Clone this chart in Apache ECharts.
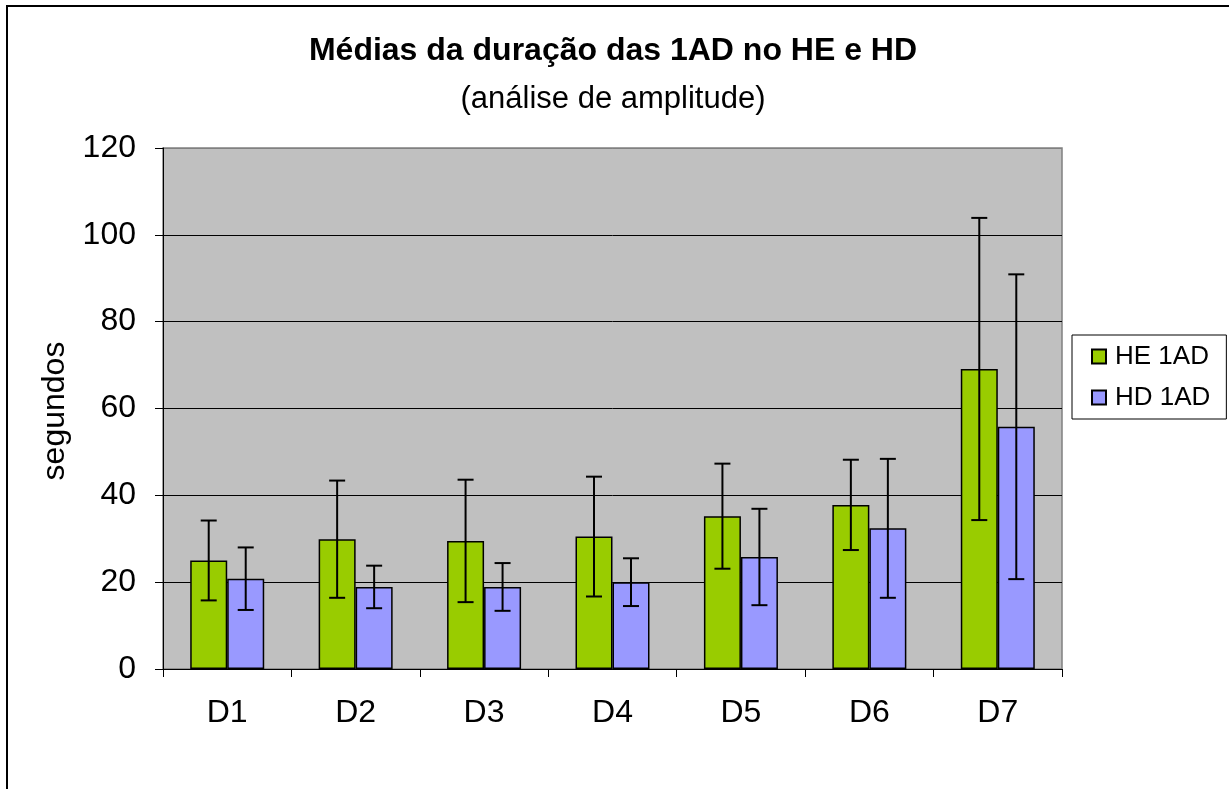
<!DOCTYPE html>
<html>
<head>
<meta charset="utf-8">
<script src="https://cdn.jsdelivr.net/npm/echarts@6/dist/echarts.min.js"></script>
<style>html,body{margin:0;padding:0;background:#fff}#c{width:1229px;height:789px}</style>
</head>
<body>
<div id="c"></div>
<script>
var categories = ['D1','D2','D3','D4','D5','D6','D7'];
var heMean = [25.0, 29.9, 29.5, 30.5, 35.2, 37.8, 69.1];
var hdMean = [20.8, 18.9, 18.9, 20.0, 25.8, 32.4, 55.8];
var heErr = [9.2, 13.5, 14.1, 13.8, 12.1, 10.4, 34.8];
var hdErr = [7.2, 4.9, 5.5, 5.5, 11.1, 16.0, 35.1];
var yTicks = [0, 20, 40, 60, 80, 100, 120];

var FONT = 'Liberation Sans, Arial, sans-serif';
var BAR_W = 37;

function errData(mean, err) {
  return mean.map(function (m, i) { return [i, m - err[i], m + err[i]]; });
}
function errRender(offset) {
  return function (params, api) {
    var i = api.value(0);
    var lo = api.coord([i, api.value(1)]);
    var hi = api.coord([i, api.value(2)]);
    var x = lo[0] + offset;
    var hw = 8;
    var st = { stroke: '#000', lineWidth: 2 };
    return {
      type: 'group',
      children: [
        { type: 'line', shape: { x1: x, y1: lo[1], x2: x, y2: hi[1] }, style: st },
        { type: 'line', shape: { x1: x - hw, y1: lo[1], x2: x + hw, y2: lo[1] }, style: st },
        { type: 'line', shape: { x1: x - hw, y1: hi[1], x2: x + hw, y2: hi[1] }, style: st }
      ]
    };
  };
}

var chart = echarts.init(document.getElementById('c'), null, { renderer: 'canvas' });
chart.setOption({
  animation: false,
  backgroundColor: '#fff',
  textStyle: { fontFamily: FONT },
  graphic: [
    { type: 'rect', shape: { x: 7, y: 6, width: 1400, height: 1000 }, style: { fill: 'none', stroke: '#000', lineWidth: 2 }, z: 100 },
    { type: 'text', x: 613, y: 51, style: { text: 'Médias da duração das 1AD no HE e HD', font: 'bold 32px ' + FONT, fill: '#000', align: 'center', verticalAlign: 'middle' } },
    { type: 'text', x: 613, y: 99, style: { text: '(análise de amplitude)', font: '31px ' + FONT, fill: '#000', align: 'center', verticalAlign: 'middle' } },
    { type: 'text', x: 55, y: 411, rotation: Math.PI / 2, style: { text: 'segundos', font: '32px ' + FONT, fill: '#000', align: 'center', verticalAlign: 'middle' } }
  ],
  grid: {
    left: 163, right: 167, top: 148, bottom: 120,
    show: true, backgroundColor: '#c0c0c0', borderColor: '#808080', borderWidth: 1.5
  },
  legend: {
    orient: 'vertical',
    left: 1072, top: 335,
    padding: [8, 16, 8, 19],
    itemGap: 14,
    itemWidth: 14, itemHeight: 14,
    borderColor: '#000', borderWidth: 1,
    backgroundColor: '#fff',
    textStyle: { fontSize: 26, fontFamily: FONT, color: '#000', lineHeight: 27, padding: [0, 0, 0, 4] },
    data: [{ name: 'HE 1AD', icon: 'rect' }, { name: 'HD 1AD', icon: 'rect' }]
  },
  xAxis: {
    type: 'category',
    data: categories,
    axisLine: { lineStyle: { color: '#000', width: 1 } },
    axisTick: { show: true, length: 8, lineStyle: { color: '#000' } },
    axisLabel: { fontSize: 32, color: '#000', margin: 28, fontFamily: FONT }
  },
  yAxis: {
    type: 'value',
    min: 0, max: 120, interval: 20,
    axisLine: { show: true, lineStyle: { color: '#000', width: 1 } },
    axisTick: { show: true, length: 8, lineStyle: { color: '#000' } },
    axisLabel: { fontSize: 32, color: '#000', margin: 27, fontFamily: FONT,
      formatter: function (v) { return yTicks.indexOf(v) >= 0 ? String(v) : ''; } },
    splitLine: { show: true, lineStyle: { color: ['#000','#000','#000','#000','#000','#000','#808080'], width: 1 } }
  },
  series: [
    { name: 'HE 1AD', type: 'bar', data: heMean, barWidth: BAR_W, barGap: '0%',
      itemStyle: { color: '#99cc00', borderColor: '#000', borderWidth: 1.5 } },
    { name: 'HD 1AD', type: 'bar', data: hdMean, barWidth: BAR_W, barGap: '0%',
      itemStyle: { color: '#9999ff', borderColor: '#000', borderWidth: 1.5 } },
    { type: 'custom', name: 'errHE', data: errData(heMean, heErr), renderItem: errRender(-BAR_W / 2), z: 10, silent: true },
    { type: 'custom', name: 'errHD', data: errData(hdMean, hdErr), renderItem: errRender(BAR_W / 2), z: 10, silent: true }
  ]
});
</script>
</body>
</html>
